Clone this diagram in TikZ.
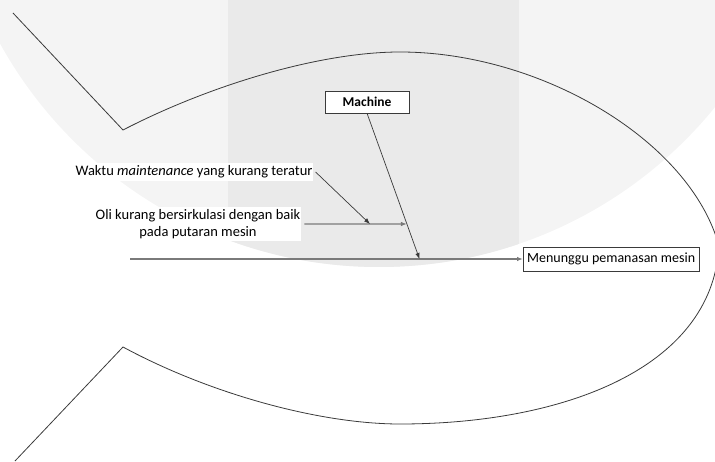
\documentclass[tikz,border=0pt]{standalone}
\usepackage{fontspec}
\setmainfont{Carlito}
\usetikzlibrary{calc, arrows.meta, positioning}

\definecolor{markLight}{HTML}{F4F4F4}
\definecolor{markDark}{HTML}{EAEAEA}
\definecolor{lineDark}{HTML}{3A3A3A}
\definecolor{lineGray}{HTML}{7A7A7A}

\begin{document}
\begin{tikzpicture}[
    x=1pt, y=-1pt,
    >={Latex[length=6pt, width=4.5pt]},
    box/.style={rectangle, draw=lineDark, fill=white, inner sep=2pt, text=black,
        font=\fontsize{14}{17}\selectfont},
    cause/.style={rectangle, fill=white, inner sep=1pt, text=black, align=center,
        font=\fontsize{14.5}{17}\selectfont},
    body/.style={draw=lineDark, line width=0.8pt},
    bone/.style={->, draw=lineDark, line width=0.7pt},
    spine/.style={->, draw=lineGray, line width=1.4pt}
]

    \useasboundingbox (0,0) rectangle (715,462);
    \clip (0,0) rectangle (715,462);

    % Background -------------------------------------------------

    \fill[markLight] (379,-166) circle[radius=433];
    \begin{scope}
        \clip (379,-166) circle[radius=433];
        \fill[markDark] (228,0) rectangle (519,462);
    \end{scope}

    % Fish -------------------------------------------------------

    \draw[body] (13,13) -- (123,130)
        .. controls (210,85) and (320,52) .. (400,52)
        .. controls (540,52) and (690,140) .. (719,246)
        .. controls (712,370) and (560,424) .. (400,424)
        .. controls (320,424) and (210,394) .. (123,347)
        -- (15,461);

    % Nodes ------------------------------------------------------

    \coordinate (tail) at (130,259);
    \node[box, minimum width=84pt, minimum height=22pt,
        font=\fontsize{13.5}{16}\selectfont\bfseries] (machine) at (367,102) {Machine};
    \node[box, minimum width=176pt, minimum height=24pt, anchor=west] (effect) at (523,259)
        {Menunggu pemanasan mesin};
    \node[cause, minimum width=236pt, minimum height=18pt] (waktu) at (194,172)
        {Waktu \textit{maintenance} yang kurang teratur};
    \node[cause, minimum width=206pt, minimum height=34pt] (oli) at (198,224)
        {Oli kurang bersirkulasi dengan baik\\pada putaran mesin};

    \coordinate (mhit) at (419.5,259);
    \coordinate (ohit) at ($(machine.south)!0.76!(mhit)$);
    \coordinate (whit) at ($(oli.east)!0.65!(ohit)$);

    % Arrows ---------------------------------------------------

    \draw[spine] (tail) -- (effect.west);
    \draw[bone] (machine.south) -- (mhit);
    \draw[->, draw=lineGray, line width=1.1pt] ([xshift=3pt]oli.east) -- (ohit);
    \draw[bone] ([xshift=2pt]waktu.east) -- (whit);

\end{tikzpicture}
\end{document}
